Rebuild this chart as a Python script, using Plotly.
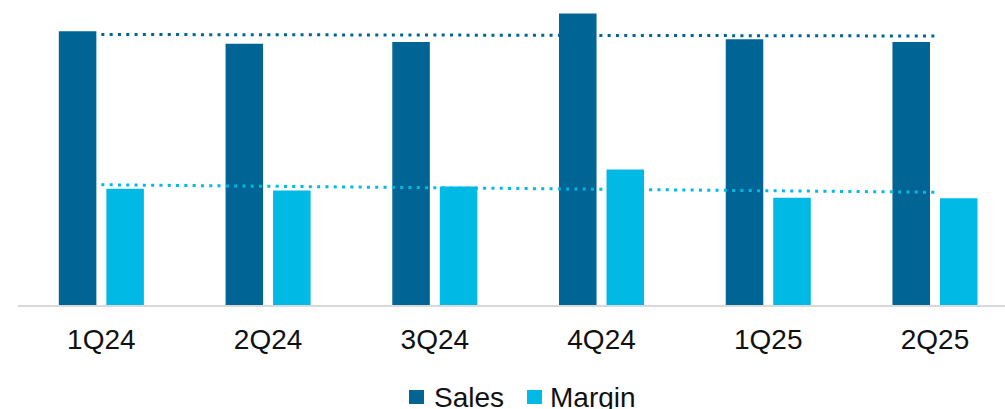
import numpy as np
import plotly.graph_objects as go

# Quarterly values (indexed, 1Q24 sales = 100)
quarters = ["1Q24", "2Q24", "3Q24", "4Q24", "1Q25", "2Q25"]
sales = [100.0, 95.4, 96.1, 106.5, 97.1, 96.1]
margin = [42.5, 41.8, 43.3, 49.5, 39.2, 39.0]

SALES_COLOR = "#006595"
MARGIN_COLOR = "#00B9E4"
FONT = "Arial, Liberation Sans, sans-serif"


def linear_trend(values):
    x = np.arange(len(values))
    slope, intercept = np.polyfit(x, values, 1)
    return list(slope * x + intercept)


fig = go.Figure()
fig.add_trace(go.Bar(x=quarters, y=sales, name="Sales",
                     marker=dict(color=SALES_COLOR, line=dict(width=0))))
fig.add_trace(go.Bar(x=quarters, y=margin, name="Margin",
                     marker=dict(color=MARGIN_COLOR, line=dict(width=0))))

# Linear trendlines for both series
fig.add_trace(go.Scatter(x=quarters, y=linear_trend(sales), mode="lines",
                         line=dict(color=SALES_COLOR, width=3, dash="3px,5.3px"),
                         showlegend=False, hoverinfo="skip"))
fig.add_trace(go.Scatter(x=quarters, y=linear_trend(margin), mode="lines",
                         line=dict(color=MARGIN_COLOR, width=3, dash="3px,5.3px"),
                         showlegend=False, hoverinfo="skip"))

W, H = 1005, 409
ML, MR, MT, MB = 18, 0, 0, 104
pw, ph = W - ML - MR, H - MT - MB


def px(x):
    return (x - ML) / pw


def py(y):
    return (H - MB - y) / ph


# Custom legend below the axis
legend_items = [("Sales", SALES_COLOR, 409, 432), ("Margin", MARGIN_COLOR, 527, 548)]
shapes = []
annotations = []
for label, color, sx, tx in legend_items:
    shapes.append(dict(type="rect", xref="paper", yref="paper",
                       x0=px(sx), x1=px(sx + 15), y0=py(404), y1=py(390),
                       fillcolor=color, line=dict(width=0)))
    annotations.append(dict(text=label, xref="paper", yref="paper",
                            x=px(tx), y=py(397), xanchor="left", yanchor="middle",
                            showarrow=False, font=dict(family=FONT, size=28, color="#111111")))

fig.update_layout(
    width=W, height=H,
    margin=dict(l=ML, r=MR, t=MT, b=MB, pad=0),
    paper_bgcolor="white", plot_bgcolor="white",
    barmode="group", bargap=0.43, bargroupgap=0.21,
    showlegend=False,
    shapes=shapes, annotations=annotations,
    font=dict(family=FONT, size=28, color="#111111"),
)
fig.update_xaxes(range=[-0.5, 5.42], showline=True, linecolor="#D9D9D9", linewidth=1.5,
                 showgrid=False, zeroline=False, ticks="", ticklabelstandoff=9,
                 tickfont=dict(family=FONT, size=28, color="#111111"))
fig.update_yaxes(range=[0, 111.4], visible=False, showgrid=False, zeroline=False)

fig.write_html("out.html")
